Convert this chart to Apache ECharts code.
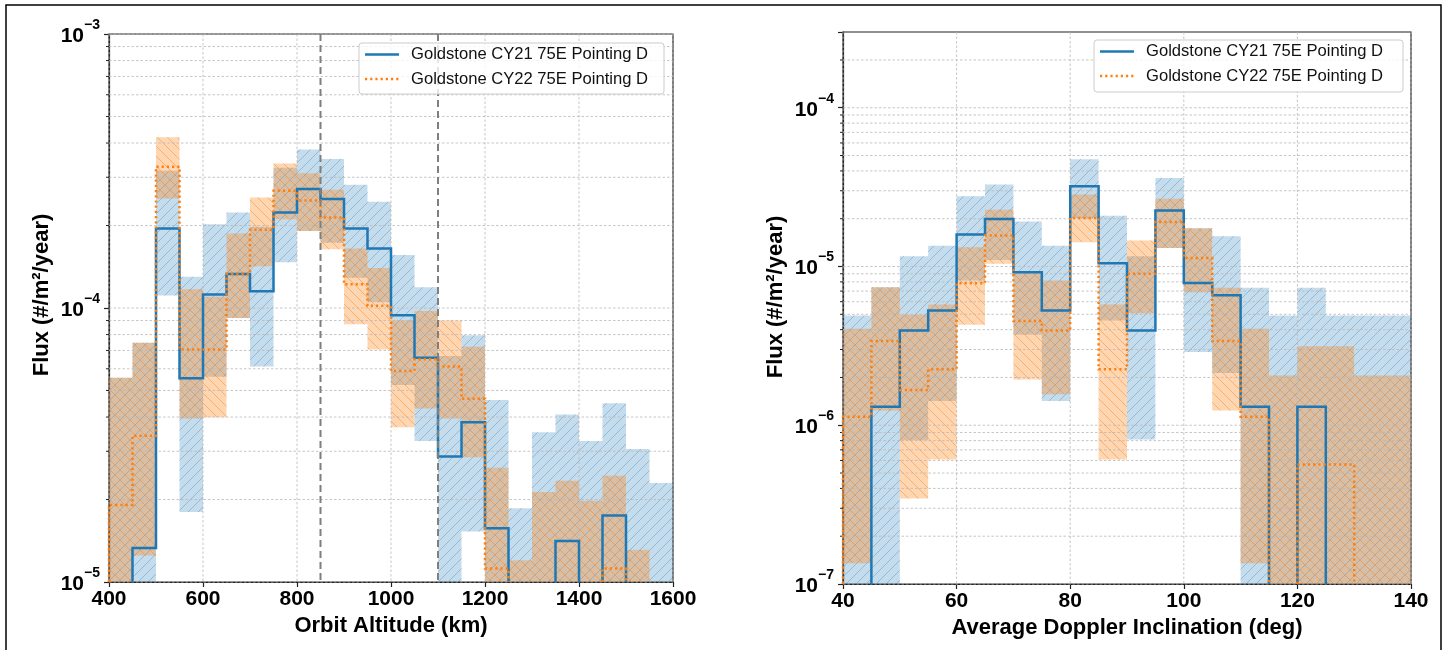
<!DOCTYPE html>
<html><head><meta charset="utf-8">
<script src="https://cdn.jsdelivr.net/npm/echarts@6/dist/echarts.min.js"></script>
<style>html,body{margin:0;padding:0;background:#fff}#c{width:1449px;height:650px}</style>
</head><body><div id="c"></div>
<script>
// ---------------- DATA: left panel (Orbit Altitude, km) ----------------
const altBinStarts = [400,450,500,550,600,650,700,750,800,850,900,950,1000,1050,1100,1150,1200,1250,1300,1350,1400,1450,1500,1550];
const altBinWidth = 50;
const alt21   = [null,1.33e-5,1.95e-4,5.54e-5,1.12e-4,1.33e-4,1.15e-4,2.23e-4,2.72e-4,2.50e-4,1.95e-4,1.65e-4,9.4e-5,6.59e-5,2.87e-5,3.83e-5,1.57e-5,null,null,1.41e-5,null,1.75e-5,null,null];
const alt21Lo = [null,null,1.11e-4,1.80e-5,5.61e-5,9.2e-5,6.11e-5,1.47e-4,1.91e-4,1.73e-4,1.29e-4,1.05e-4,5.24e-5,3.27e-5,null,1.53e-5,null,null,null,null,null,null,null,null];
const alt21Hi = [5.57e-5,7.46e-5,3.17e-4,1.30e-4,2.02e-4,2.23e-4,1.98e-4,3.25e-4,3.79e-4,3.50e-4,2.82e-4,2.44e-4,1.56e-4,1.19e-4,6.68e-5,7.96e-5,4.62e-5,1.86e-5,3.52e-5,4.09e-5,3.27e-5,4.49e-5,3.06e-5,2.30e-5];
const alt22   = [1.91e-5,3.42e-5,3.28e-4,7.06e-5,7.06e-5,1.33e-4,1.93e-4,2.68e-4,2.47e-4,2.14e-4,1.22e-4,1.02e-4,5.89e-5,6.5e-5,6.11e-5,4.66e-5,1.12e-5,null,null,null,null,1.12e-5,null,null];
const alt22Lo = [null,1.25e-5,2.51e-4,3.95e-5,3.99e-5,9.2e-5,1.42e-4,2.11e-4,1.91e-4,1.64e-4,8.73e-5,7.06e-5,3.67e-5,4.3e-5,3.95e-5,2.85e-5,null,null,null,null,null,null,null,null];
const alt22Hi = [5.57e-5,7.46e-5,4.2e-4,1.17e-4,1.1e-4,1.87e-4,2.53e-4,3.37e-4,3.10e-4,2.70e-4,1.65e-4,1.40e-4,9.0e-5,9.75e-5,9.0e-5,7.22e-5,2.61e-5,1.20e-5,2.13e-5,2.34e-5,1.98e-5,2.44e-5,1.31e-5,null];
const altRefLines = [850, 1100];
const altXTicks = [400,600,800,1000,1200,1400,1600];
const altYRange = [1e-5, 1e-3];
const altYMajor = [1e-5,1e-4,1e-3];
const altYMinor = [2e-5,3e-5,4e-5,5e-5,6e-5,7e-5,8e-5,9e-5,2e-4,3e-4,4e-4,5e-4,6e-4,7e-4,8e-4,9e-4];

// ---------------- DATA: right panel (Average Doppler Inclination, deg) ----------------
const incBinStarts = [40,45,50,55,60,65,70,75,80,85,90,95,100,105,110,115,120,125,130,135];
const incBinWidth = 5;
const inc21   = [null,1.31e-6,3.95e-6,5.28e-6,1.59e-5,1.99e-5,9.2e-6,5.28e-6,3.20e-5,1.05e-5,3.95e-6,2.25e-5,7.88e-6,6.58e-6,1.31e-6,null,1.31e-6,null,null,null];
const inc21Lo = [null,null,8.05e-7,1.42e-6,8.17e-6,1.10e-5,3.72e-6,1.42e-6,2.02e-5,4.57e-6,8.13e-7,1.31e-5,2.89e-6,2.13e-6,null,null,null,null,null,null];
const inc21Hi = [4.92e-6,7.41e-6,1.16e-5,1.35e-5,2.77e-5,3.28e-5,1.92e-5,1.35e-5,4.73e-5,2.09e-5,1.16e-5,3.61e-5,1.74e-5,1.55e-5,7.35e-6,4.92e-6,7.35e-6,4.92e-6,4.92e-6,4.92e-6];
const inc22   = [1.13e-6,3.39e-6,1.67e-6,2.25e-6,7.85e-6,1.57e-5,4.53e-6,3.95e-6,2.02e-5,2.25e-6,9.0e-6,1.91e-5,1.13e-5,3.39e-6,1.13e-6,null,5.66e-7,5.66e-7,null,null];
const inc22Lo = [1.35e-7,1.24e-6,3.46e-7,6.08e-7,4.29e-6,1.04e-5,1.94e-6,1.57e-6,1.42e-5,6.08e-7,5.08e-6,1.31e-5,6.89e-6,1.24e-6,1.35e-7,null,null,null,null,null];
const inc22Hi = [4.06e-6,7.41e-6,4.97e-6,5.77e-6,1.32e-5,2.28e-5,9.35e-6,8.17e-6,2.84e-5,5.77e-6,1.46e-5,2.67e-5,1.74e-5,7.35e-6,4.06e-6,2.06e-6,3.14e-6,3.14e-6,2.06e-6,2.06e-6];
const incXTicks = [40,60,80,100,120,140];
const incYRange = [1e-7, 3e-4];
const incYMajor = [1e-7,1e-6,1e-5,1e-4];
const incYMinor = [2e-7,3e-7,4e-7,5e-7,6e-7,7e-7,8e-7,9e-7,2e-6,3e-6,4e-6,5e-6,6e-6,7e-6,8e-6,9e-6,2e-5,3e-5,4e-5,5e-5,6e-5,7e-5,8e-5,9e-5,2e-4];

const legendNames = ['Goldstone CY21 75E Pointing D', 'Goldstone CY22 75E Pointing D'];
const xNames = ['Orbit Altitude (km)', 'Average Doppler Inclination (deg)'];
const yName = 'Flux (#/m\u00b2/year)';

// ---------------- styles ----------------
const FONT = '"Liberation Sans", Arial, Helvetica, sans-serif';
const BLUE = '#1f77b4', ORANGE = '#ff7f0e';
const BLUE_FILL = 'rgba(31,119,180,0.26)', ORANGE_FILL = 'rgba(255,127,14,0.32)';
const GRID_COLOR = '#b8b8b8';

function makeHatch(color, dir, size) {
  const c = document.createElement('canvas');
  c.width = c.height = size;
  const g = c.getContext('2d');
  g.strokeStyle = color; g.lineWidth = 1;
  g.beginPath();
  if (dir === '/') {
    g.moveTo(0, size); g.lineTo(size, 0);
    g.moveTo(-1, 1); g.lineTo(1, -1);
    g.moveTo(size - 1, size + 1); g.lineTo(size + 1, size - 1);
  } else {
    g.moveTo(0, 0); g.lineTo(size, size);
    g.moveTo(-1, size - 1); g.lineTo(1, size + 1);
    g.moveTo(size - 1, -1); g.lineTo(size + 1, 1);
  }
  g.stroke();
  return { image: c, repeat: 'repeat' };
}
const BLUE_HATCH = makeHatch('rgba(31,119,180,0.32)', '/', 10);
const ORANGE_HATCH = makeHatch('rgba(255,127,14,0.45)', '\\', 10);

function clampY(y, cs) { return Math.max(cs.y, Math.min(cs.y + cs.height, y)); }

function bandSeries(gi, starts, w, lo, hi, yMin, fill, hatch, z) {
  return {
    type: 'custom', xAxisIndex: gi, yAxisIndex: gi, z: z, silent: true,
    data: starts.map((s, i) => [s, hi[i] == null ? yMin : hi[i]]),
    renderItem: function (params, api) {
      const i = params.dataIndex, cs = params.coordSys;
      if (hi[i] == null) return;
      const s = starts[i];
      const pTop = api.coord([s, hi[i]]);
      const yb = lo[i] == null ? cs.y + cs.height : clampY(api.coord([s, lo[i]])[1], cs);
      const x1 = api.coord([s + w, hi[i]])[0];
      const yt = clampY(pTop[1], cs);
      const shape = { x: pTop[0], y: yt, width: x1 - pTop[0], height: yb - yt };
      return { type: 'group', children: [
        { type: 'rect', shape: shape, style: { fill: fill, stroke: null } },
        { type: 'rect', shape: shape, style: { fill: hatch, stroke: null } }
      ]};
    }
  };
}

function stepSeries(gi, starts, w, vals, yMin, lineStyle, z) {
  return {
    type: 'custom', xAxisIndex: gi, yAxisIndex: gi, z: z, silent: true,
    data: [[starts[0], yMin]],
    renderItem: function (params, api) {
      const cs = params.coordSys, bottom = cs.y + cs.height;
      const X = v => api.coord([v, yMin])[0];
      const Y = v => clampY(api.coord([starts[0], v])[1], cs);
      const paths = []; let cur = null;
      for (let i = 0; i < starts.length; i++) {
        if (vals[i] == null) {
          if (cur) { cur.push([X(starts[i]), bottom]); paths.push(cur); cur = null; }
          continue;
        }
        const y = Y(vals[i]), xa = X(starts[i]), xb = X(starts[i] + w);
        if (!cur) cur = [[xa, bottom]];
        cur.push([xa, y], [xb, y]);
      }
      if (cur) { cur.push([X(starts[starts.length - 1] + w), bottom]); paths.push(cur); }
      return { type: 'group', children: paths.map(p => ({
        type: 'polyline', shape: { points: p },
        style: Object.assign({ fill: null, lineJoin: 'miter', lineCap: 'butt' }, lineStyle)
      }))};
    }
  };
}

function gridSeries(gi, xTicks, yMajor, yMinor, yMin, z) {
  return {
    type: 'custom', xAxisIndex: gi, yAxisIndex: gi, z: z, silent: true,
    data: [[xTicks[0], yMin]],
    renderItem: function (params, api) {
      const cs = params.coordSys;
      const gs = { stroke: GRID_COLOR, lineWidth: 0.8, lineDash: [2.5, 2] , fill: null};
      const ch = [];
      xTicks.forEach(t => {
        const x = api.coord([t, yMin])[0];
        ch.push({ type: 'line', shape: { x1: x, y1: cs.y, x2: x, y2: cs.y + cs.height }, style: gs });
      });
      yMajor.concat(yMinor).forEach(v => {
        const y = api.coord([xTicks[0], v])[1];
        if (y < cs.y - 0.5 || y > cs.y + cs.height + 0.5) return;
        ch.push({ type: 'line', shape: { x1: cs.x, y1: y, x2: cs.x + cs.width, y2: y }, style: gs });
      });
      yMinor.forEach(v => {
        const y = api.coord([xTicks[0], v])[1];
        if (y < cs.y - 0.5 || y > cs.y + cs.height + 0.5) return;
        ch.push({ type: 'line', shape: { x1: cs.x - 3, y1: y, x2: cs.x, y2: y }, style: { stroke: '#222', lineWidth: 1 } });
      });
      return { type: 'group', children: ch };
    }
  };
}

function refLineSeries(gi, xs, yMin, z) {
  return {
    type: 'custom', xAxisIndex: gi, yAxisIndex: gi, z: z, silent: true,
    data: xs.map(x => [x, yMin]),
    renderItem: function (params, api) {
      const cs = params.coordSys;
      const x = api.coord([xs[params.dataIndex], yMin])[0];
      return { type: 'line', shape: { x1: x, y1: cs.y, x2: x, y2: cs.y + cs.height },
        style: { stroke: '#7f7f7f', lineWidth: 2, lineDash: [7, 4], fill: null } };
    }
  };
}

function yLabelFmt(v) {
  const e = Math.log10(v), r = Math.round(e);
  if (Math.abs(e - r) > 1e-6) return '';
  return '{b|10}{s|\u2212' + (-r) + '}';
}

function xAxis(gi, range, interval) {
  return {
    gridIndex: gi, type: 'value', min: range[0], max: range[1], interval: interval,
    name: xNames[gi], nameLocation: 'middle', nameGap: 30,
    nameTextStyle: { fontSize: 22, fontWeight: 'bold', color: '#000', fontFamily: FONT },
    axisLine: { onZero: false, lineStyle: { color: '#222', width: 1.2 } },
    axisTick: { length: 5, lineStyle: { color: '#222', width: 1.2 } },
    axisLabel: { fontSize: 21, fontWeight: 'bold', color: '#000', fontFamily: FONT, margin: 7,
      formatter: v => String(v) },
    splitLine: { show: false }
  };
}
function yAxis(gi, range) {
  return {
    gridIndex: gi, type: 'log', logBase: 10, min: range[0], max: range[1],
    axisLine: { onZero: false, lineStyle: { color: '#222', width: 1.2 } },
    axisTick: { length: 5, lineStyle: { color: '#222', width: 1.2 } },
    axisLabel: {
      formatter: yLabelFmt, margin: 9,
      rich: {
        b: { fontSize: 21, fontWeight: 'bold', color: '#000', fontFamily: FONT, padding: [4, 0, 0, 0] },
        s: { fontSize: 14, fontWeight: 'bold', color: '#000', fontFamily: FONT, padding: [0, 0, 18, 0] }
      }
    },
    splitLine: { show: false }, minorTick: { show: false }
  };
}

function legendGraphic(x, y, w, h) {
  const els = [{ type: 'rect', shape: { x: x, y: y, width: w, height: h, r: 3 },
    style: { fill: 'rgba(255,255,255,0.8)', stroke: '#cccccc', lineWidth: 1 }, z: 100 }];
  const rows = [y + 11.5, y + 36];
  els.push({ type: 'line', shape: { x1: x + 6, y1: rows[0], x2: x + 40, y2: rows[0] },
    style: { stroke: BLUE, lineWidth: 2.5 }, z: 101 });
  els.push({ type: 'line', shape: { x1: x + 6, y1: rows[1], x2: x + 40, y2: rows[1] },
    style: { stroke: ORANGE, lineWidth: 2.5, lineDash: [2.2, 3] }, z: 101 });
  legendNames.forEach((n, i) => els.push({ type: 'text', x: x + 52, y: rows[i], z: 101,
    style: { text: n, fontSize: 16.6, fontFamily: FONT, fill: '#111', verticalAlign: 'middle', align: 'left' } }));
  return els;
}

const chart = echarts.init(document.getElementById('c'), null, { renderer: 'canvas' });
const grids = [
  { left: 109, top: 34, width: 564, height: 548, show: true, borderColor: '#222', borderWidth: 1.2, backgroundColor: 'transparent' },
  { left: 843, top: 32, width: 568, height: 552, show: true, borderColor: '#222', borderWidth: 1.2, backgroundColor: 'transparent' }
];
const blueLine = { stroke: BLUE, lineWidth: 2.5 };
const orangeLine = { stroke: ORANGE, lineWidth: 2.5, lineDash: [2.2, 3] };
const yNameStyle = { text: yName, fontSize: 22, fontWeight: 'bold', fontFamily: FONT, fill: '#000', align: 'center', verticalAlign: 'middle' };

chart.setOption({
  animation: false,
  backgroundColor: '#fff',
  grid: grids,
  xAxis: [xAxis(0, [400, 1600], 200), xAxis(1, [40, 140], 20)],
  yAxis: [yAxis(0, altYRange), yAxis(1, incYRange)],
  series: [
    bandSeries(0, altBinStarts, altBinWidth, alt21Lo, alt21Hi, altYRange[0], BLUE_FILL, BLUE_HATCH, 1),
    bandSeries(0, altBinStarts, altBinWidth, alt22Lo, alt22Hi, altYRange[0], ORANGE_FILL, ORANGE_HATCH, 2),
    gridSeries(0, altXTicks, altYMajor, altYMinor, altYRange[0], 3),
    stepSeries(0, altBinStarts, altBinWidth, alt21, altYRange[0], blueLine, 5),
    stepSeries(0, altBinStarts, altBinWidth, alt22, altYRange[0], orangeLine, 6),
    refLineSeries(0, altRefLines, altYRange[0], 7),
    bandSeries(1, incBinStarts, incBinWidth, inc21Lo, inc21Hi, incYRange[0], BLUE_FILL, BLUE_HATCH, 1),
    bandSeries(1, incBinStarts, incBinWidth, inc22Lo, inc22Hi, incYRange[0], ORANGE_FILL, ORANGE_HATCH, 2),
    gridSeries(1, incXTicks, incYMajor, incYMinor, incYRange[0], 3),
    stepSeries(1, incBinStarts, incBinWidth, inc21, incYRange[0], blueLine, 5),
    stepSeries(1, incBinStarts, incBinWidth, inc22, incYRange[0], orangeLine, 6)
  ],
  graphic: [
    { type: 'rect', shape: { x: 6, y: 5, width: 1435, height: 660 }, style: { fill: null, stroke: '#000', lineWidth: 1.5 }, z: 50 },
    { type: 'text', x: 42, y: 295, rotation: Math.PI / 2, z: 50, style: yNameStyle },
    { type: 'text', x: 776, y: 297, rotation: Math.PI / 2, z: 50, style: yNameStyle }
  ].concat(legendGraphic(359, 43, 305, 51), legendGraphic(1094, 40, 309, 52))
});
</script></body></html>
